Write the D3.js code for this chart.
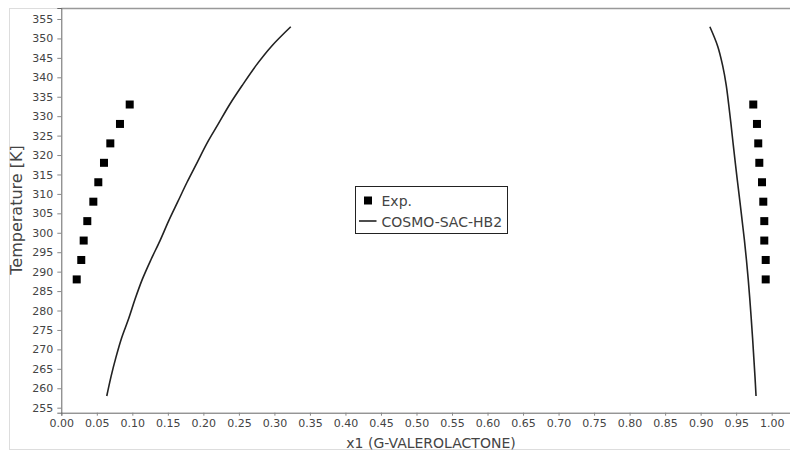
<!DOCTYPE html>
<html>
<head>
<meta charset="utf-8">
<script src="https://cdn.jsdelivr.net/npm/d3@7/dist/d3.min.js"></script>
<style>
  body { margin: 0; background: #fff; }
  svg { display: block; font-family: "DejaVu Sans", sans-serif; }
</style>
</head>
<body>
<div id="chart"></div>
<script>
// experimental points (left and right branches)
var expT = [288, 293, 298, 303, 308, 313, 318, 323, 328, 333];
var expLeft = [0.0217, 0.0281, 0.0315, 0.0366, 0.0451, 0.0521, 0.0601, 0.0690, 0.0826, 0.0963];
var expRight = [0.9916, 0.9916, 0.9896, 0.9896, 0.9882, 0.9864, 0.9826, 0.9811, 0.9793, 0.9741];

// COSMO-SAC-HB2 curve
var calcT = [258, 263, 268, 273, 278, 283, 288, 293, 298, 303, 308, 313, 318, 323, 328, 333, 338, 343, 348, 353];
var calcLeft = [0.064, 0.070, 0.077, 0.085, 0.095, 0.104, 0.114, 0.126, 0.139, 0.151, 0.164, 0.177, 0.191, 0.205, 0.221, 0.237, 0.255, 0.274, 0.296, 0.323];
var calcRight = [0.978, 0.9765, 0.9748, 0.9731, 0.9712, 0.9692, 0.967, 0.9645, 0.9617, 0.9585, 0.9553, 0.952, 0.9488, 0.9457, 0.9427, 0.9395, 0.936, 0.931, 0.924, 0.913];

var xTicks = [0, 0.05, 0.1, 0.15, 0.2, 0.25, 0.3, 0.35, 0.4, 0.45, 0.5, 0.55, 0.6, 0.65, 0.7, 0.75, 0.8, 0.85, 0.9, 0.95, 1.0];
var yTicks = [255, 260, 265, 270, 275, 280, 285, 290, 295, 300, 305, 310, 315, 320, 325, 330, 335, 340, 345, 350, 355];

var width = 790, height = 451;
var plotLeft = 61.3, plotRight = 790, plotTop = 8, plotBottom = 412.7;

var svg = d3.select("#chart").append("svg")
    .attr("width", width)
    .attr("height", height);

// outer panel border
svg.append("rect")
    .attr("x", 9.5).attr("y", 8.5)
    .attr("width", 800).attr("height", 441)
    .attr("fill", "#fff")
    .attr("stroke", "#ddd");

var x = d3.scaleLinear().domain([0, 1.0258]).range([plotLeft, plotRight]);
var y = d3.scaleLinear().domain([253.71, 357.83]).range([plotBottom, plotTop]);

// plot top border
svg.append("line")
    .attr("x1", plotLeft).attr("x2", plotRight)
    .attr("y1", plotTop + 0.5).attr("y2", plotTop + 0.5)
    .attr("stroke", "#999").attr("stroke-width", 1.5);

var xAxis = svg.append("g")
    .attr("transform", "translate(0," + plotBottom + ")")
    .call(d3.axisBottom(x).tickValues(xTicks).tickSize(3).tickPadding(4).tickFormat(d3.format(".2f")));
var yAxis = svg.append("g")
    .attr("transform", "translate(" + plotLeft + ",0)")
    .call(d3.axisLeft(y).tickValues(yTicks).tickSize(4).tickPadding(4).tickFormat(d3.format("d")));

[xAxis, yAxis].forEach(function (g) {
    g.selectAll("path").attr("stroke", "#666");
    g.selectAll("line").attr("stroke", "#888");
    g.selectAll("text").attr("fill", "#444").attr("font-size", "11px")
        .attr("font-family", "DejaVu Sans, sans-serif");
});

// axis labels
svg.append("text")
    .attr("x", 431).attr("y", 447.5)
    .attr("text-anchor", "middle")
    .attr("font-size", "14px")
    .attr("fill", "#444")
    .text("x1 (G-VALEROLACTONE)");
svg.append("text")
    .attr("transform", "translate(22,210) rotate(-90)")
    .attr("text-anchor", "middle")
    .attr("font-size", "16px")
    .attr("fill", "#444")
    .text("Temperature [K]");

// calculated curves
var line = d3.line()
    .curve(d3.curveCatmullRom)
    .x(function (d) { return x(d[0]); })
    .y(function (d) { return y(d[1]); });
[calcLeft, calcRight].forEach(function (xs) {
    svg.append("path")
        .datum(calcT.map(function (t, i) { return [xs[i], t]; }))
        .attr("d", line)
        .attr("fill", "none")
        .attr("stroke", "#222")
        .attr("stroke-width", 1.6);
});

// experimental squares
var pts = expT.map(function (t, i) { return [expLeft[i], t]; })
    .concat(expT.map(function (t, i) { return [expRight[i], t]; }));
svg.selectAll("rect.exp")
    .data(pts)
    .enter().append("rect")
    .attr("class", "exp")
    .attr("x", function (d) { return x(d[0]) - 4; })
    .attr("y", function (d) { return y(d[1]) - 4; })
    .attr("width", 8).attr("height", 8)
    .attr("fill", "#000");

// legend
var lg = svg.append("g").attr("transform", "translate(355.5,186.5)");
lg.append("rect")
    .attr("width", 152).attr("height", 47)
    .attr("fill", "#fff").attr("stroke", "#222");
lg.append("rect")
    .attr("x", 8.5).attr("y", 10).attr("width", 8).attr("height", 8)
    .attr("fill", "#000");
lg.append("line")
    .attr("x1", 3.5).attr("x2", 21).attr("y1", 34.5).attr("y2", 34.5)
    .attr("stroke", "#222").attr("stroke-width", 1.6);
lg.append("text")
    .attr("x", 26).attr("y", 19)
    .attr("font-size", "14px").attr("fill", "#444")
    .text("Exp.");
lg.append("text")
    .attr("x", 26).attr("y", 40)
    .attr("font-size", "14px").attr("fill", "#444")
    .text("COSMO-SAC-HB2");
</script>
</body>
</html>
